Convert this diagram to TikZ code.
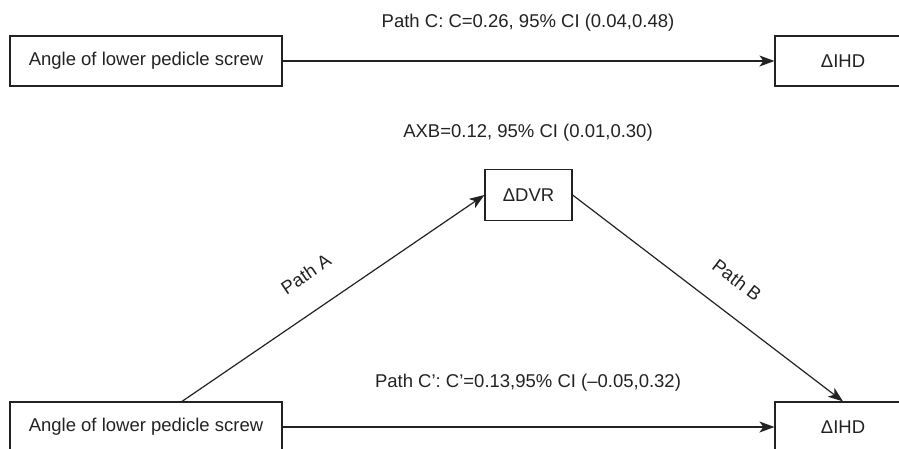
\documentclass[tikz,border=0pt]{standalone}
\usepackage{fontspec}
\setmainfont{Liberation Sans}
\usetikzlibrary{arrows.meta}
\definecolor{ink}{HTML}{222222}
\begin{document}
\begin{tikzpicture}[x=1pt,y=-1pt,
  txt/.style={text=ink, font=\fontsize{18.5}{22}\selectfont},
  box/.style={txt, draw=ink, line width=1.2pt, inner sep=0pt, minimum height=50pt},
  lbl/.style={txt, inner sep=0pt},
  arr/.style={draw=ink, line width=1.2pt, -{Stealth[length=15pt,width=11pt,inset=4pt]}}]
\useasboundingbox (0,0) rectangle (899,448);
\clip (0,0) rectangle (899,448);
% top model
\node[box, minimum width=272pt] (a1) at (146,61) {Angle of lower pedicle screw};
\node[box, minimum width=136pt] (i1) at (843,61) {ΔIHD};
\draw[arr] (a1.east) -- (i1.west);
\node[lbl] (pc) at (528,23) {Path C: C=0.26, 95\% CI (0.04,0.48)};
% mediation model
\node[box, minimum width=87pt, minimum height=51pt] (dvr) at (528.5,195) {ΔDVR};
\node[lbl] (axb) at (528,133) {AXB=0.12, 95\% CI (0.01,0.30)};
\node[box, minimum width=272pt] (a2) at (146,427) {Angle of lower pedicle screw};
\node[box, minimum width=136pt] (i2) at (843,427) {ΔIHD};
\coordinate (pa0) at ([xshift=36pt]a2.north);
\draw[arr] (pa0) -- (dvr.west);
\draw[arr] (dvr.east) -- (i2.north);
\draw[arr] (a2.east) -- (i2.west);
\node[lbl, rotate=34.1] (la) at (306,274) {Path A};
\node[lbl, rotate=-37.2] (lb) at (737,280) {Path B};
\node[lbl] (pcp) at (528,383) {Path C’: C’=0.13,95\% CI (–0.05,0.32)};
\end{tikzpicture}
\end{document}
